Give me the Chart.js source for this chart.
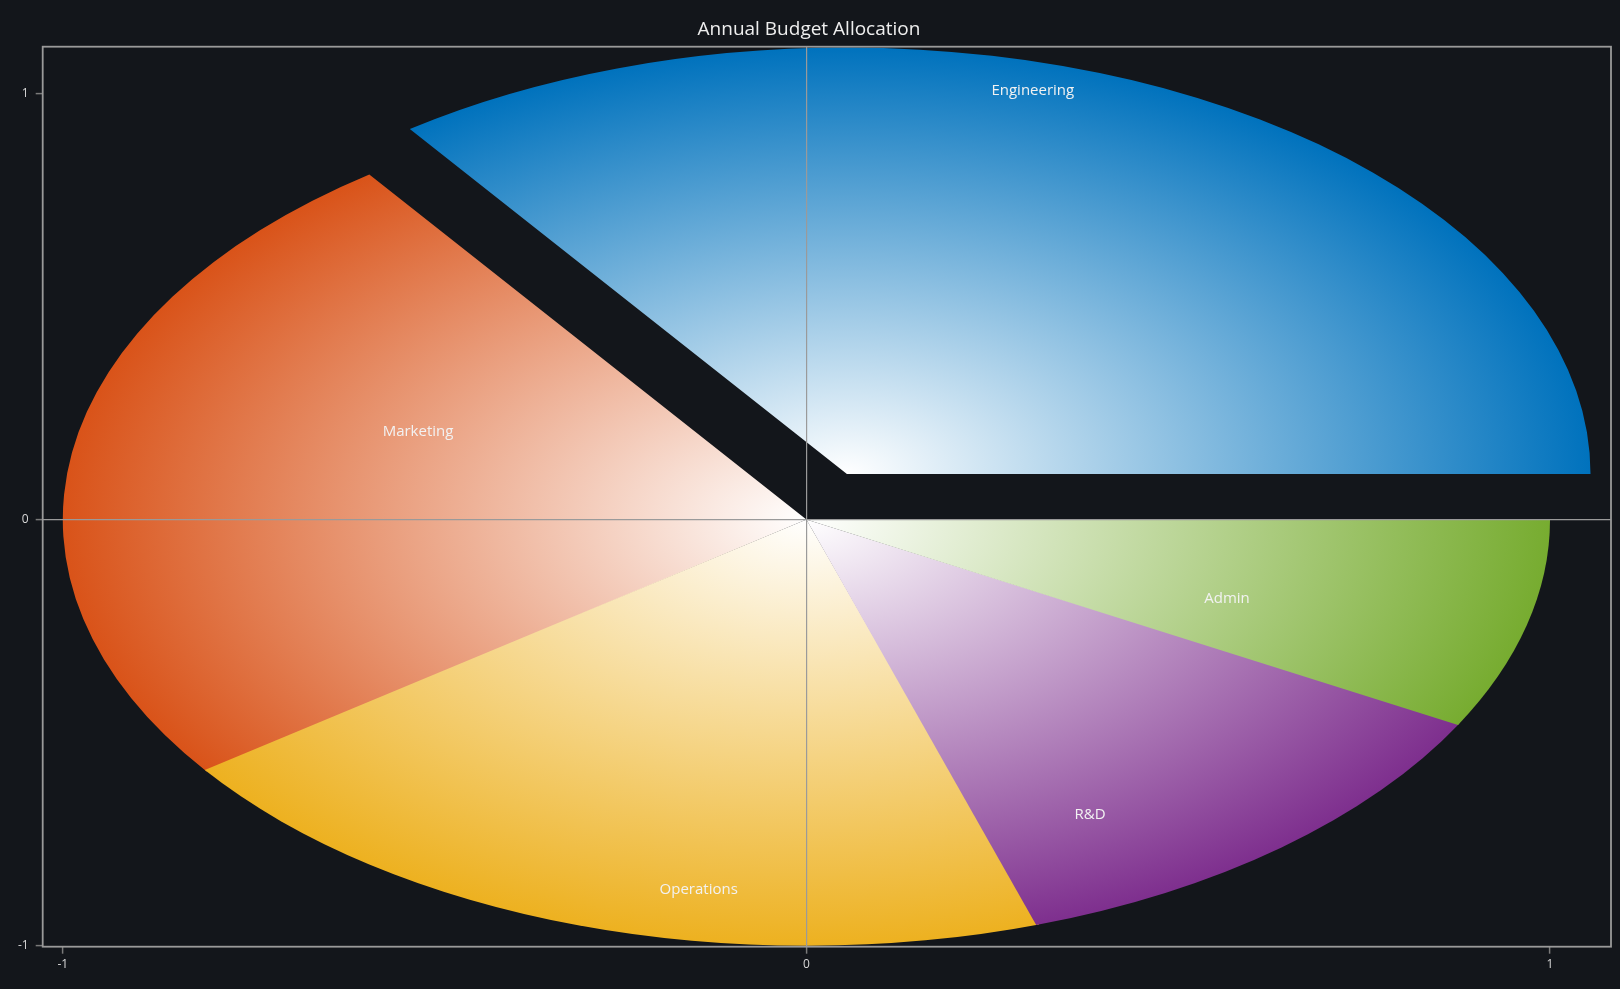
<!DOCTYPE html>
<html>
<head>
<meta charset="utf-8">
<script src="https://cdn.jsdelivr.net/npm/chart.js@4.4.0/dist/chart.umd.min.js"></script>
<style>
  html, body { margin: 0; background: #13161b; }
  #wrap { width: 1620px; height: 989px; }
</style>
</head>
<body>
<div id="wrap"><canvas id="chart"></canvas></div>
<script>
const departments = ["Engineering", "Marketing", "Operations", "R&D", "Admin"]
const shares = [35, 25, 20, 12, 8]
const explode = [0.12, 0, 0, 0, 0]
const sliceColors = ["#0072bd", "#d95319", "#edb120", "#7e2f8e", "#77ac30"]
const tickValues = [-1, 0, 1]

const FONT = "'Open Sans', 'Noto Sans', sans-serif"
const AXIS_COLOR = "#9a9a9a"

// slice angles (radians, counter-clockwise from +x)
function sliceGeometry() {
  const total = shares.reduce((s, v) => s + v, 0)
  let start = 0
  return shares.map((v, i) => {
    const span = (v / total) * Math.PI * 2
    const g = { start, end: start + span, mid: start + span / 2, explode: explode[i] }
    start += span
    return g
  })
}

// Draws the pie under the grid, labels on top
const pieSlicesPlugin = {
  id: "pieSlices",
  beforeDraw(chart) {
    const { ctx } = chart
    const xs = chart.scales.x
    const ys = chart.scales.y
    const geo = sliceGeometry()
    geo.forEach((g, i) => {
      const ox = g.explode * Math.cos(g.mid)
      const oy = g.explode * Math.sin(g.mid)
      const cx = xs.getPixelForValue(ox)
      const cy = ys.getPixelForValue(oy)
      const rx = xs.getPixelForValue(ox + 1) - cx
      const ry = cy - ys.getPixelForValue(oy + 1)
      // small overlap with the next slice hides the anti-aliasing seam
      const next = geo[(i + 1) % geo.length]
      const overlap = (g.explode === 0 && next.explode === 0) ? 0.004 : 0

      ctx.save()
      ctx.translate(cx, cy)
      ctx.scale(rx, -ry)
      ctx.beginPath()
      ctx.moveTo(0, 0)
      ctx.arc(0, 0, 1, g.start, g.end + overlap, false)
      ctx.closePath()
      const grad = ctx.createRadialGradient(0, 0, 0, 0, 0, 1)
      grad.addColorStop(0, "#ffffff")
      grad.addColorStop(1, sliceColors[i])
      ctx.fillStyle = grad
      ctx.fill()
      ctx.restore()
    })
  },
  afterDraw(chart) {
    const { ctx, chartArea } = chart
    const xs = chart.scales.x
    const ys = chart.scales.y

    ctx.save()
    ctx.strokeStyle = AXIS_COLOR
    ctx.lineWidth = 1.8
    ctx.strokeRect(chartArea.left, chartArea.top, chartArea.right - chartArea.left, chartArea.bottom - chartArea.top)

    ctx.font = `15px ${FONT}`
    ctx.fillStyle = "#f2f2f2"
    ctx.textAlign = "center"
    ctx.textBaseline = "middle"
    const cx = xs.getPixelForValue(0.027)
    const cy = ys.getPixelForValue(0.055)
    const ry = ys.getPixelForValue(0) - ys.getPixelForValue(1)
    sliceGeometry().forEach((g, i) => {
      const r = (0.97 + 0.8 * g.explode) * ry
      ctx.fillText(departments[i], cx + Math.cos(g.mid) * r, cy - Math.sin(g.mid) * r)
    })
    ctx.restore()
  }
}

const axisGrid = {
  color: (c) => (c.tick && c.tick.value === 0 ? AXIS_COLOR : "transparent"),
  lineWidth: 1.2,
  tickColor: "#7a7a7a",
  tickLength: 7,
  tickWidth: 1.5
}

new Chart(document.getElementById("chart"), {
  type: "scatter",
  data: { datasets: [] },
  plugins: [pieSlicesPlugin],
  options: {
    responsive: true,
    maintainAspectRatio: false,
    animation: false,
    layout: { padding: { left: 7, right: 9, top: 0, bottom: 0 } },
    plugins: {
      legend: { display: false },
      tooltip: { enabled: false },
      title: {
        display: true,
        text: "Annual Budget Allocation",
        color: "#eeeeee",
        font: { family: FONT, size: 19, weight: "normal" },
        padding: { top: 18, bottom: 5.9 }
      }
    },
    scales: {
      x: {
        min: -1.027,
        max: 1.082,
        afterBuildTicks: (s) => { s.ticks = tickValues.map(v => ({ value: v })) },
        afterFit: (s) => { s.height = 42.3 },
        grid: axisGrid,
        border: { display: false },
        ticks: { color: "#d8d8d8", padding: 4, font: { family: FONT, size: 12 } }
      },
      y: {
        min: -1.002,
        max: 1.109,
        afterBuildTicks: (s) => { s.ticks = tickValues.map(v => ({ value: v })) },
        afterFit: (s) => { s.width = 35.7 },
        grid: axisGrid,
        border: { display: false },
        ticks: { color: "#d8d8d8", padding: 7, font: { family: FONT, size: 12 } }
      }
    }
  }
})
</script>
</body>
</html>
